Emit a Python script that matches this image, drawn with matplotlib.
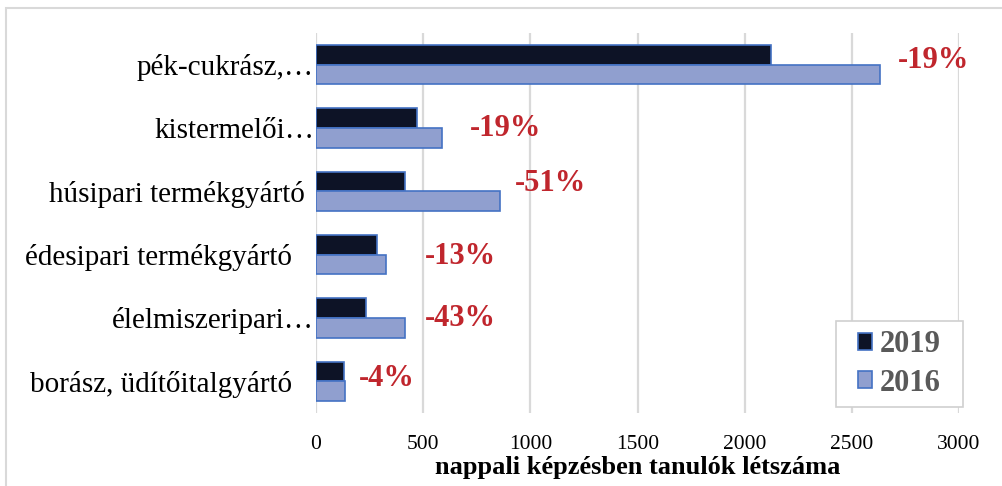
import matplotlib
matplotlib.use("Agg")
import matplotlib.pyplot as plt
from matplotlib.patches import Rectangle
import matplotlib.transforms as mtrans
import numpy as np

# ---- data ----
categories = ["pék-cukrász,…", "kistermelői…", "húsipari termékgyártó",
              "édesipari termékgyártó", "élelmiszeripari…", "borász, üdítőitalgyártó"]
values_2019 = [2121, 472, 417, 284, 235, 129]
values_2016 = [2631, 586, 860, 327, 414, 135]
change_labels = ["-19%", "-19%", "-51%", "-13%", "-43%", "-4%"]
xticks = [0, 500, 1000, 1500, 2000, 2500, 3000]
series_names = ["2019", "2016"]
xlabel = "nappali képzésben tanulók létszáma"

# ---- layout / style ----
W, H = 1003, 486
label_offsets_px = [18, 28, 15, 39, 20, 14]
label_dy_px = [-2, 3, -5, 4, 3, 0]
tick_pads_px = [2, 2, 11, 24, 2, 24]
c2019 = "#0D1326"
c2016 = "#909FCF"
cedge = "#4472C4"
cred = "#C0262D"
serif = ["Liberation Serif", "DejaVu Serif"]

fig = plt.figure(figsize=(W / 100, H / 100), dpi=100)
ax = fig.add_axes([316 / W, 1 - 413 / H, (959 - 316) / W, (413 - 33) / H])

n = len(categories)
y = np.arange(n)
bh = 0.31
ax.barh(y - bh / 2, values_2019, height=bh, color=c2019, edgecolor=cedge, linewidth=1.2, zorder=3)
ax.barh(y + bh / 2, values_2016, height=bh, color=c2016, edgecolor=cedge, linewidth=1.2, zorder=3)

ax.set_ylim(n - 0.5, -0.5)
ax.set_xlim(0, 3000)
ax.set_xticks(xticks)
ax.set_xticklabels([str(t) for t in xticks], fontfamily=serif, fontsize=15.5)
ax.set_yticks(y)
ax.set_yticklabels(categories, fontfamily=serif, fontsize=21)
ax.tick_params(axis="both", length=0)
ax.tick_params(axis="x", pad=16)
for tk, p in zip(ax.yaxis.get_major_ticks(), tick_pads_px):
    tk.set_pad(p * 72 / 100)

ax.grid(axis="x", color="#D9D9D9", linewidth=1.6, zorder=0)
for s in ax.spines.values():
    s.set_visible(False)

ax.set_xlabel(xlabel, fontfamily=serif, fontsize=19, fontweight="bold", labelpad=1)

for i in range(n):
    off = mtrans.offset_copy(ax.transData, fig=fig, x=label_offsets_px[i] * 72 / 100,
                             y=-label_dy_px[i] * 72 / 100, units="points")
    ax.text(values_2016[i], y[i] - 0.04, change_labels[i], transform=off,
            color=cred, fontfamily=serif, fontsize=22, fontweight="bold",
            ha="left", va="center", zorder=4)

# legend frame drawn in pixel coords
lx0, ly0, lx1, ly1 = 836, 321, 963, 407
fig.patches.append(Rectangle((lx0 / W, 1 - ly1 / H), (lx1 - lx0) / W, (ly1 - ly0) / H,
                             transform=fig.transFigure, facecolor="white",
                             edgecolor="#D0D0D0", linewidth=1.2, zorder=5))
handles = [Rectangle((0, 0), 1, 1, facecolor=c2019, edgecolor=cedge, linewidth=1.2),
           Rectangle((0, 0), 1, 1, facecolor=c2016, edgecolor=cedge, linewidth=1.2)]
leg = fig.legend(handles, series_names, loc="center",
                 bbox_to_anchor=((lx0 + lx1) / 2 / W, 1 - (ly0 + ly1) / 2 / H),
                 prop={"family": serif, "size": 22, "weight": "bold"},
                 labelcolor="#595959", frameon=False,
                 handlelength=0.45, handleheight=0.45, handletextpad=0.25, borderpad=0.2,
                 labelspacing=0.3, borderaxespad=0)
leg.set_zorder(6)

# outer chart border (cropped at right/bottom)
fig.patches.append(Rectangle((6 / W, -0.1), 1.2, 1 - 8 / H + 0.1, transform=fig.transFigure,
                             fill=False, edgecolor="#D9D9D9", linewidth=1.5))

fig.savefig("out.png", dpi=100)
